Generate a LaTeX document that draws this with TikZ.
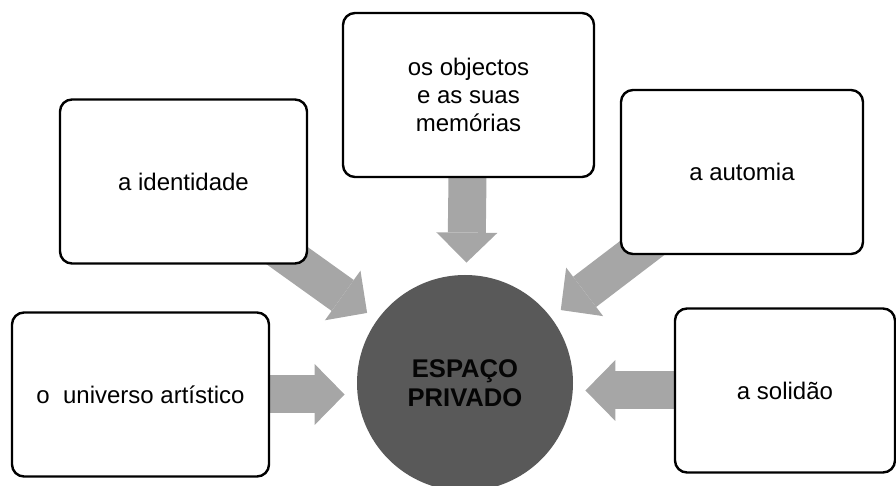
\documentclass[tikz,border=0pt]{standalone}
\usepackage{fontspec}
\setmainfont{Liberation Sans}
\usetikzlibrary{arrows.meta,backgrounds}
\definecolor{corefill}{HTML}{595959}
\definecolor{coretext}{rgb}{0.02,0.02,0.02}
\definecolor{arrowgray}{HTML}{A6A6A6}
\tikzstyle{topic} = [rectangle, rounded corners=6pt, line width=1.2pt, draw=black, fill=white, minimum height=82pt, text centered, align=center, font=\fontsize{12}{13.8}\selectfont]
\tikzstyle{core} = [circle, fill=corefill, text=coretext, minimum size=108pt, inner sep=0pt, align=center, font=\bfseries\fontsize{12.8}{14.5}\selectfont]
\tikzstyle{fatarrow} = [line width=19pt, draw=arrowgray, shorten >=6pt, -{Triangle[length=15pt, width=30.5pt, line width=0pt]}]

\begin{document}
\begin{tikzpicture}[x=0.5pt, y=-0.5pt]
    \useasboundingbox (0,0) rectangle (896,486);
    \node (objectos) [topic, minimum width=125.5pt] at (468.5,95) {os objectos\\e as suas\\memórias};
    \node (identidade) [topic, minimum width=123.5pt] at (183.5,181.5) {a identidade};
    \node (automia) [topic, minimum width=121pt] at (742,172) {a automia};
    \node (universo) [topic, minimum width=128.5pt] at (140.5,394.5) {o\ \ universo artístico};
    \node (solidao) [topic, minimum width=110pt] at (785,390.5) {a solidão};
    \node (espaco) [core] at (465,383) {ESPAÇO\\PRIVADO};

    \begin{scope}[on background layer]
    \draw [fatarrow] (objectos.center) -- (espaco);
    \draw [fatarrow] (identidade.center) -- (espaco);
    \draw [fatarrow] (automia.center) -- (espaco);
    \draw [fatarrow] (universo.center) -- (universo.center -| espaco.west);
    \draw [fatarrow] (solidao.center) -- (solidao.center -| espaco.east);
    \end{scope}
\end{tikzpicture}
\end{document}
